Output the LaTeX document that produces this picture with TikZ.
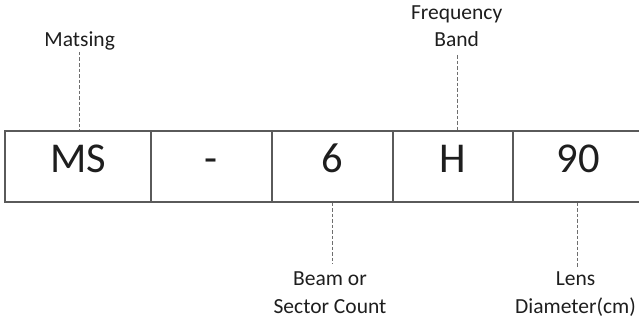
\documentclass[tikz,border=0pt]{standalone}
\usepackage{fontspec}
\setmainfont{Carlito}
\definecolor{ink}{HTML}{1E1E1E}
\definecolor{rule}{HTML}{5A5A5A}
\definecolor{dashc}{HTML}{6E6E6E}
\begin{document}
\begin{tikzpicture}[x=1pt,y=-1pt,
  cell/.style={draw=rule,line width=1.1pt,minimum height=71pt,inner sep=0pt,
    text=ink,font=\fontsize{42.5}{42.5}\selectfont,text height=26.6pt,text depth=15pt},
  lab/.style={text=ink,font=\fontsize{21.5}{27.6}\selectfont,align=center,inner sep=0pt,anchor=base},
  lead/.style={draw=dashc,line width=0.8pt,dash pattern=on 3.5pt off 2pt}]
\useasboundingbox (0,0) rectangle (639,321);
\node[cell,minimum width=146pt] (c1) at (78,166.5) {MS};
\node[cell,minimum width=121pt] (c2) at (211.5,166.5) {-};
\node[cell,minimum width=121pt] (c3) at (332.5,166.5) {6};
\node[cell,minimum width=120pt] (c4) at (453,166.5) {H};
\node[cell,minimum width=130pt] (c5) at (578,166.5) {90};
\node[lab] (l1) at (79.7,46.7) {Matsing};
\node[lab] (l4) at (456.7,46.7) {Frequency\\Band};
\node[lab] (l3) at (330,313.3) {Beam or\\Sector Count};
\node[lab] (l5) at (575.5,313.3) {Lens\\Diameter(cm)};
\coordinate (p1) at (79,52);
\coordinate (p4) at (457,55);
\coordinate (p3) at (332,264);
\coordinate (p5) at (577,268);
\draw[lead] (p1) -- (p1 |- c1.north);
\draw[lead] (p4) -- (p4 |- c4.north);
\draw[lead] (p3 |- c3.south) -- (p3);
\draw[lead] (p5 |- c5.south) -- (p5);
\end{tikzpicture}
\end{document}
